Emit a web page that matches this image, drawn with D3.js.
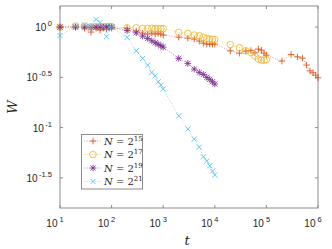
<!DOCTYPE html>
<html>
<head>
<meta charset="utf-8">
<script src="https://cdnjs.cloudflare.com/ajax/libs/d3/7.8.5/d3.min.js"></script>
<style>
  body { margin: 0; background: #fff; }
  svg { display: block; }
</style>
</head>
<body>
<svg id="chart" width="332" height="249"></svg>
<script>
// t sampled at 1..9 x 10^k
function tValues(lastExp) {
  const out = [];
  for (let k = 1; k < lastExp; k++) {
    for (let m = 1; m <= 9; m++) out.push(m * Math.pow(10, k));
  }
  out.push(Math.pow(10, lastExp));
  return out;
}

const tN15 = tValues(6);
const wN15 = [1.000, 1.000, 0.977, 0.892, 0.977, 0.934, 0.977, 0.955, 0.977,
  0.977, 0.977, 0.912, 0.872, 0.852, 0.872, 0.852, 0.872, 0.852,
  0.833, 0.795, 0.777, 0.760, 0.726, 0.693, 0.677, 0.677, 0.677,
  0.677, 0.581, 0.551, 0.577, 0.584, 0.555, 0.604, 0.590, 0.551,
  0.526, 0.459, 0.533, 0.506, 0.491, 0.419, 0.367, 0.351, 0.333,
  0.313];

const tN17 = tValues(5);
const wN17 = [1.000, 1.023, 1.023, 1.012, 1.012, 1.012, 1.012, 1.012, 1.012,
  1.012, 0.984, 0.984, 0.971, 0.971, 0.971, 0.966, 0.966, 0.966,
  0.966, 0.886, 0.866, 0.833, 0.819, 0.790, 0.772, 0.760, 0.754,
  0.751, 0.670, 0.625, 0.581, 0.558, 0.514, 0.480, 0.469, 0.469,
  0.475];

const tN19 = tValues(4);
const wN19 = [1.000, 1.000, 1.000, 0.995, 1.000, 0.995, 1.000, 0.995, 1.000,
  1.000, 0.923, 0.878, 0.814, 0.772, 0.731, 0.698, 0.677, 0.652,
  0.632, 0.488, 0.435, 0.382, 0.354, 0.338, 0.316, 0.302, 0.286,
  0.271];

const tN21 = tValues(4);
const wN21 = [0.823, 1.023, 1.047, 1.012, 1.193, 1.109, 1.012, 0.801, 1.000,
  1.000, 0.790, 0.581, 0.488, 0.419, 0.354, 0.328, 0.286, 0.265,
  0.242, 0.131, 0.0966, 0.0768, 0.0640, 0.0512, 0.0464, 0.0417, 0.0369,
  0.0337];

const seriesNames = ["15", "17", "19", "21"];
const xTicks = [1e1, 1e2, 1e3, 1e4, 1e5, 1e6];
const xTickExp = ["1", "2", "3", "4", "5", "6"];
const yTicks = [1, Math.pow(10, -0.5), 0.1, Math.pow(10, -1.5)];
const yTickExp = ["0", "-0.5", "-1", "-1.5"];

const series = [
  { name: seriesNames[0], t: tN15, w: wN15, color: "#D95319", marker: "plus" },
  { name: seriesNames[1], t: tN17, w: wN17, color: "#EDB120", marker: "circle" },
  { name: seriesNames[2], t: tN19, w: wN19, color: "#7E2F8E", marker: "star" },
  { name: seriesNames[3], t: tN21, w: wN21, color: "#4DBEEE", marker: "cross" }
];

const svg = d3.select("#chart");
const mLeft = 60, mRight = 318, mTop = 6, mBottom = 208;

const x = d3.scaleLog().domain([10, 1e6]).range([mLeft, mRight]);
const y = d3.scaleLog().domain([Math.pow(10, -1.8), Math.pow(10, 0.21)]).range([mBottom, mTop]);

const axisColor = "#8c8c8c";
const labelFont = "'Liberation Sans', Arial, sans-serif";
const mathFont = "'DejaVu Serif', 'Liberation Serif', serif";

// frame
svg.append("rect")
  .attr("x", mLeft).attr("y", mTop)
  .attr("width", mRight - mLeft).attr("height", mBottom - mTop)
  .attr("fill", "none").attr("stroke", axisColor).attr("stroke-width", 1);

// ticks (inward, on all four sides)
const tickLen = 3;
xTicks.forEach(v => {
  svg.append("line").attr("x1", x(v)).attr("x2", x(v)).attr("y1", mBottom).attr("y2", mBottom - tickLen)
    .attr("stroke", axisColor);
  svg.append("line").attr("x1", x(v)).attr("x2", x(v)).attr("y1", mTop).attr("y2", mTop + tickLen)
    .attr("stroke", axisColor);
});
yTicks.forEach(v => {
  svg.append("line").attr("x1", mLeft).attr("x2", mLeft + tickLen).attr("y1", y(v)).attr("y2", y(v))
    .attr("stroke", axisColor);
  svg.append("line").attr("x1", mRight).attr("x2", mRight - tickLen).attr("y1", y(v)).attr("y2", y(v))
    .attr("stroke", axisColor);
});

// tick labels
const xl = svg.append("g").selectAll("text").data(xTicks).join("text")
  .attr("x", d => x(d) - 5)
  .attr("y", 227)
  .attr("text-anchor", "middle")
  .attr("font-family", labelFont)
  .attr("font-size", 10)
  .attr("fill", "#262626");
xl.append("tspan").text("10");
xl.append("tspan").attr("dx", 2).attr("dy", -5).attr("font-size", 7.5).text((d, i) => xTickExp[i]);

const yl = svg.append("g").selectAll("text").data(yTicks).join("text")
  .attr("x", 52)
  .attr("y", d => y(d) + 4)
  .attr("text-anchor", "end")
  .attr("font-family", labelFont)
  .attr("font-size", 10)
  .attr("fill", "#262626");
yl.append("tspan").text("10");
yl.append("tspan").attr("dx", 1.5).attr("dy", -5).attr("font-size", 7.5).text((d, i) => yTickExp[i]);

// axis titles
svg.append("text")
  .attr("transform", "translate(17,107) rotate(-90)")
  .attr("text-anchor", "middle")
  .attr("font-family", mathFont).attr("font-style", "italic")
  .attr("font-size", 13).attr("fill", "#262626")
  .text("W");
svg.append("text")
  .attr("x", 187).attr("y", 245)
  .attr("text-anchor", "middle")
  .attr("font-family", mathFont).attr("font-style", "italic")
  .attr("font-size", 13).attr("fill", "#262626")
  .text("t");

function drawMarker(g, type, color) {
  if (type === "circle") {
    g.append("circle").attr("r", 3.3).attr("fill", "none").attr("stroke", color).attr("stroke-width", 0.9);
    return;
  }
  let d = "";
  if (type === "plus" || type === "star") d += "M-3.3,0H3.3M0,-3.3V3.3";
  if (type === "cross" || type === "star") d += "M-2.6,-2.6L2.6,2.6M-2.6,2.6L2.6,-2.6";
  g.append("path").attr("d", d).attr("fill", "none").attr("stroke", color).attr("stroke-width", 1);
}

const plot = svg.append("g");
const line = d3.line().x(d => x(d[0])).y(d => y(d[1]));

series.forEach(s => {
  const pts = s.t.map((t, i) => [t, s.w[i]]);
  plot.append("path")
    .attr("d", line(pts))
    .attr("fill", "none")
    .attr("stroke", s.color)
    .attr("stroke-opacity", 0.6)
    .attr("stroke-width", 0.9)
    .attr("stroke-dasharray", "1,1.6");
  plot.selectAll(null).data(pts).join("g")
    .attr("transform", d => `translate(${x(d[0])},${y(d[1])})`)
    .attr("opacity", 0.85)
    .each(function () { drawMarker(d3.select(this), s.marker, s.color); });
});

// legend
const lg = svg.append("g");
lg.append("rect")
  .attr("x", 81.5).attr("y", 134.5).attr("width", 61).attr("height", 54.5)
  .attr("fill", "#fff").attr("stroke", axisColor);
series.forEach((s, i) => {
  const cy = 141 + i * 13.5;
  lg.append("line").attr("x1", 84).attr("x2", 102).attr("y1", cy).attr("y2", cy)
    .attr("stroke", s.color).attr("stroke-opacity", 0.6).attr("stroke-width", 0.9)
    .attr("stroke-dasharray", "1,1.6");
  const m = lg.append("g").attr("transform", `translate(93,${cy})`).attr("opacity", 0.85);
  drawMarker(m, s.marker, s.color);
  const tx = lg.append("text").attr("x", 104).attr("y", cy + 3.5)
    .attr("font-family", mathFont).attr("font-size", 10).attr("fill", "#262626");
  tx.append("tspan").attr("font-style", "italic").text("N");
  tx.append("tspan").text(" = 2");
  tx.append("tspan").attr("dy", -4).attr("font-size", 7).text(s.name);
});
</script>
</body>
</html>
